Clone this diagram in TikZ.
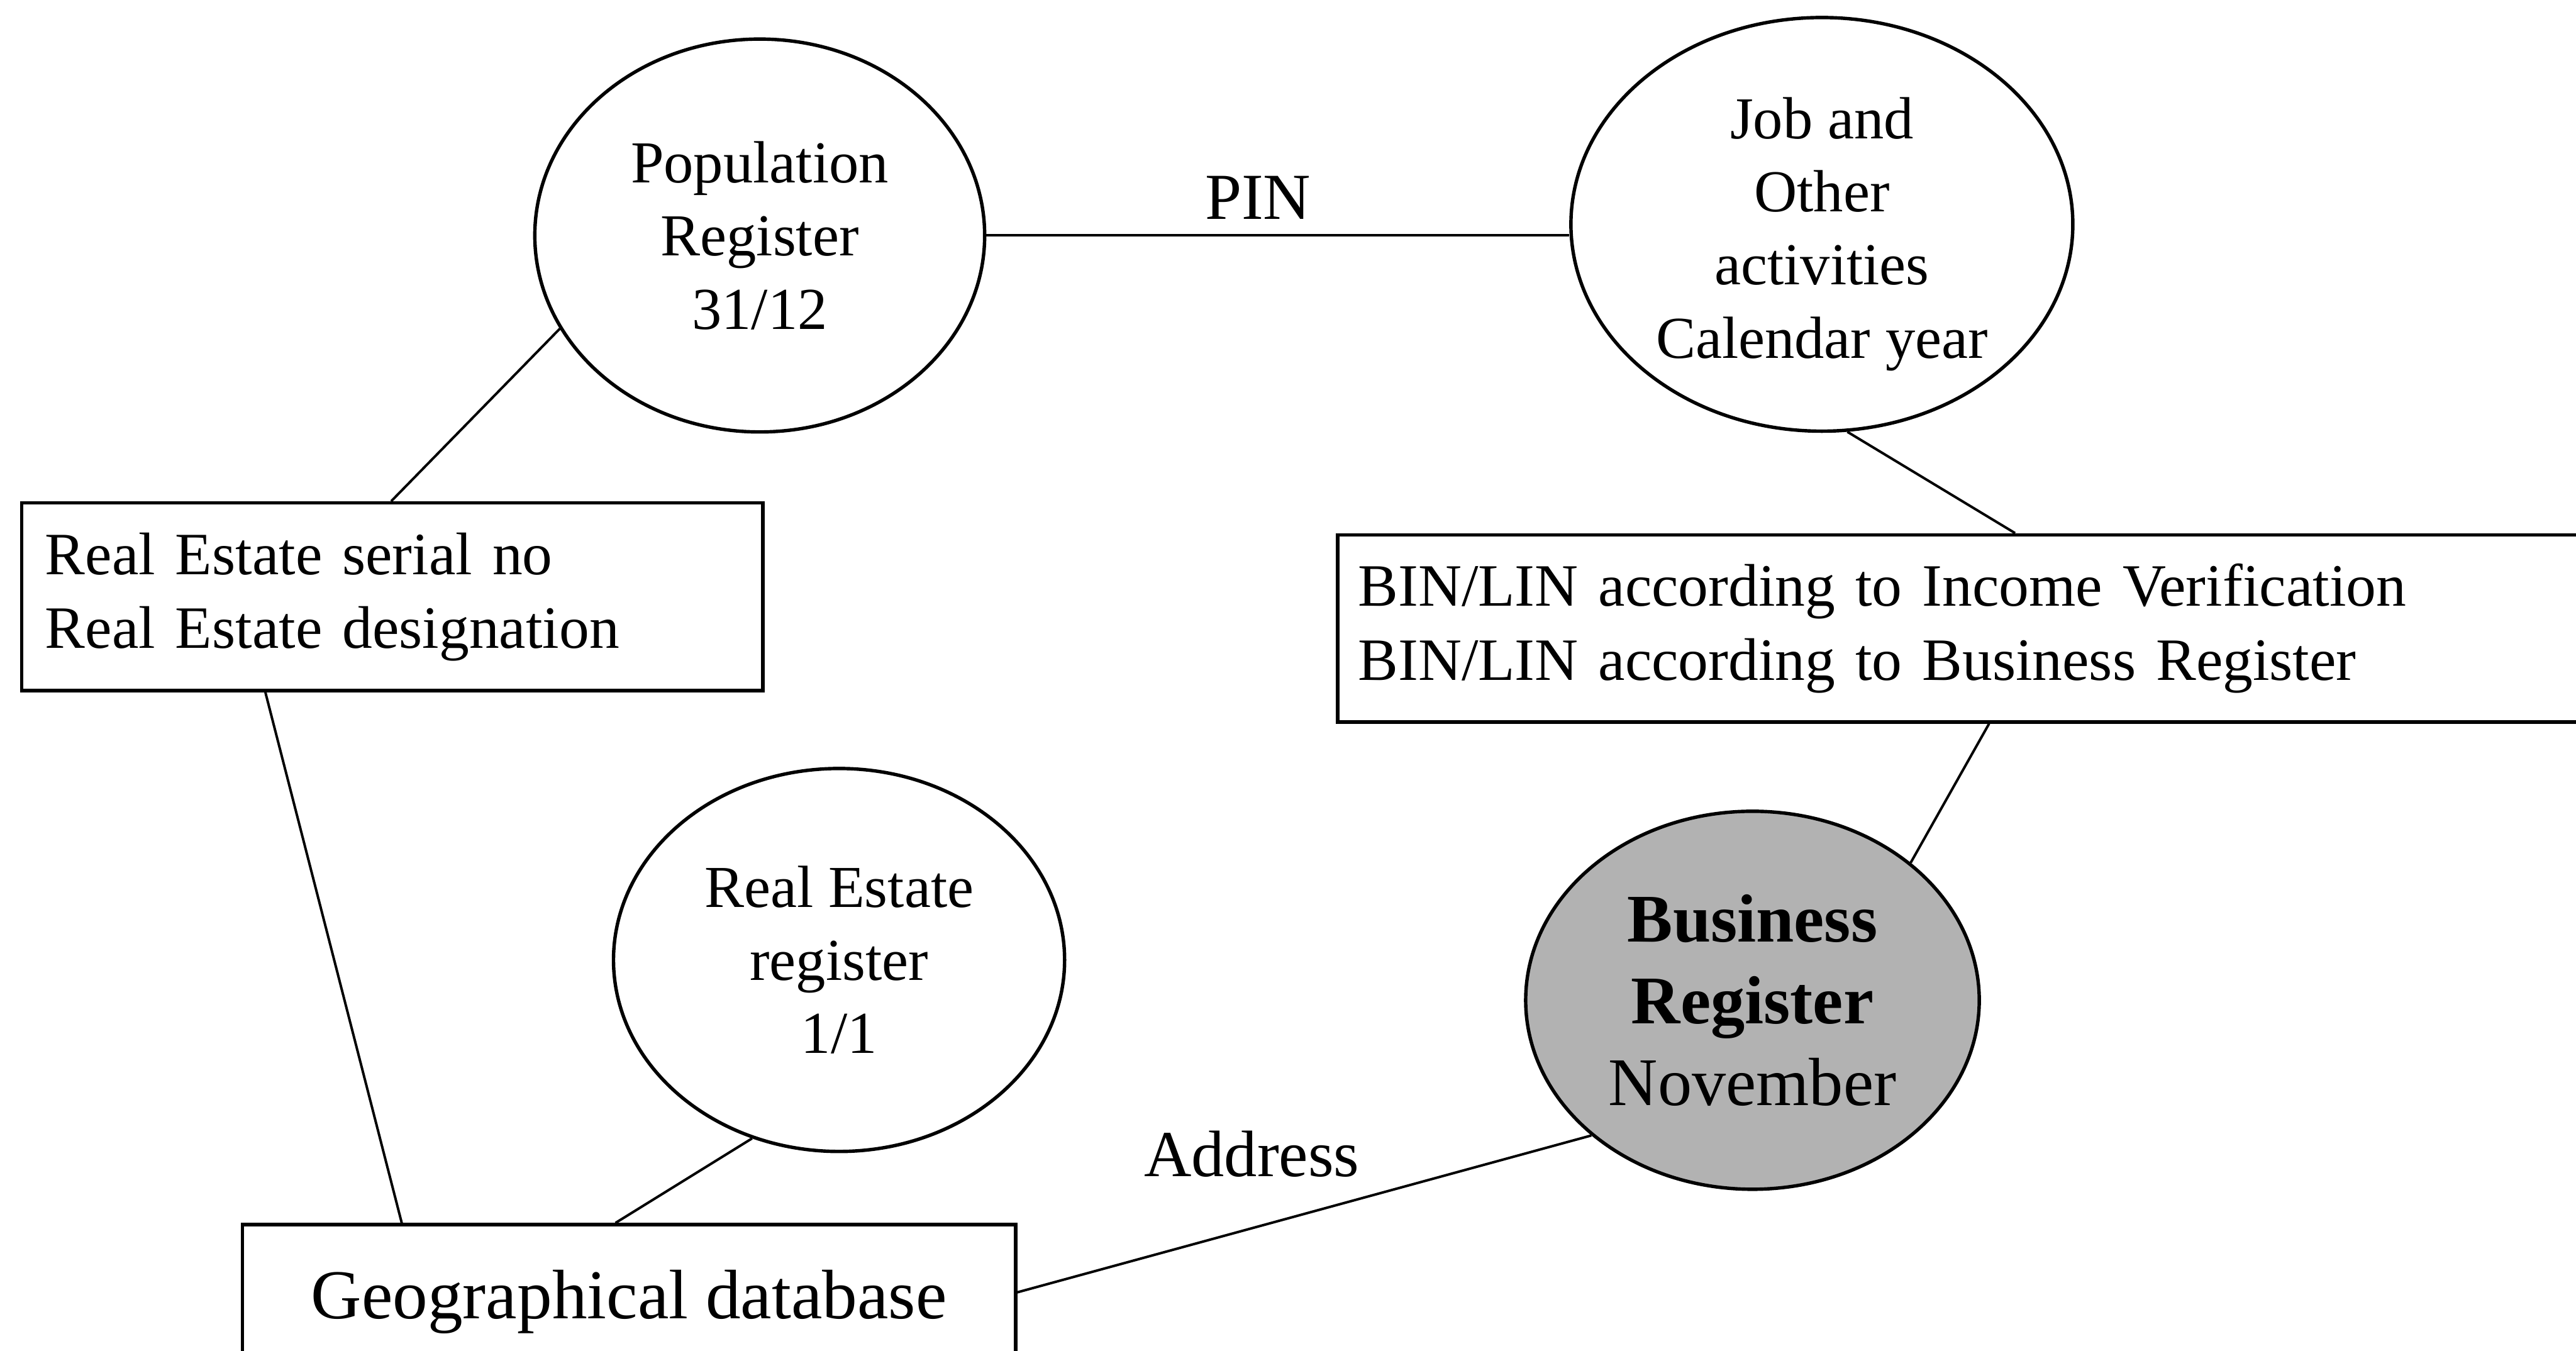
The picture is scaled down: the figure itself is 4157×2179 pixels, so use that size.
\documentclass[tikz,border=0pt]{standalone}
\usepackage{fontspec}
\setmainfont{Liberation Serif}
\usetikzlibrary{shapes.geometric,calc}
\begin{document}
\begin{tikzpicture}[x=0.1pt,y=-0.1pt,
  shapeline/.style={draw=black,line width=0.55pt},
  regcircle/.style={shapeline,ellipse,inner sep=0pt,align=center,
    font=\fontsize{9.6}{11.8}\selectfont},
  infobox/.style={shapeline,rectangle,inner ysep=0pt,align=left,
    font=\fontsize{9.7}{11.9}\selectfont},
  link/.style={draw=black,line width=0.4pt},
  linklabel/.style={inner sep=0pt,anchor=base,font=\fontsize{10.6}{12}\selectfont}]
\useasboundingbox (0,0) rectangle (4157,2179);
\clip (0,0) rectangle (4157,2179);
\fill[white] (0,0) rectangle (4157,2179);

% registers
\node[regcircle,minimum width=72.6pt,minimum height=63.4pt] (pop) at (1226,380)
  {Population\\Register\\31/12};
\node[regcircle,minimum width=81pt,minimum height=66.4pt] (job) at (2940,362)
  {\raisebox{-1.5pt}[\height][\depth]{\begin{tabular}{@{}c@{}}Job and\\Other\\activities\\Calendar year\end{tabular}}};
\node[regcircle,minimum width=72.8pt,minimum height=61.8pt] (rereg) at (1354,1549)
  {Real Estate\\register\\1/1};
\node[regcircle,fill=black!30,minimum width=73.2pt,minimum height=61pt,
  font=\fontsize{11}{13.2}\selectfont] (bus) at (2828,1614)
  {{\bfseries Business}\\{\bfseries Register}\\November};

% linking keys
\node[infobox,inner xsep=3.8pt,text width=112pt,minimum height=30.3pt] (reserial) at (633,963)
  {Real Estate serial no\\Real Estate designation};
\node[infobox,inner xsep=3.3pt,text width=207.5pt,minimum height=30.2pt] (bin) at (3229,1014)
  {BIN/LIN according to Income Verification\\BIN/LIN according to Business Register};
\node[shapeline,rectangle,inner sep=0pt,minimum width=124.8pt,minimum height=25pt,
  font=\fontsize{11.3}{13}\selectfont] (geo) at (1015,2101) {Geographical database};

% connections
\draw[link] (pop.205) -- ($(reserial.north west)+(599,0)$);
\draw[link] (pop.east) -- (pop.east -| job.west);
\node[linklabel] (pin) at (2030,354) {PIN};
\draw[link] (job.277) -- ($(bin.north west)+(1096,0)$);
\draw[link] ($(bin.south west)+(1054,0)$) -- (bus.41);
\draw[link] ($(reserial.south west)+(396,0)$) -- ($(geo.north west)+(260,0)$);
\draw[link] (rereg.244) -- ($(geo.north west)+(605,0)$);
\draw[link] ($(geo.north east)+(0,112)$) -- (bus.220);
\node[linklabel] (addr) at (2020,1898) {Address};
\end{tikzpicture}
\end{document}
